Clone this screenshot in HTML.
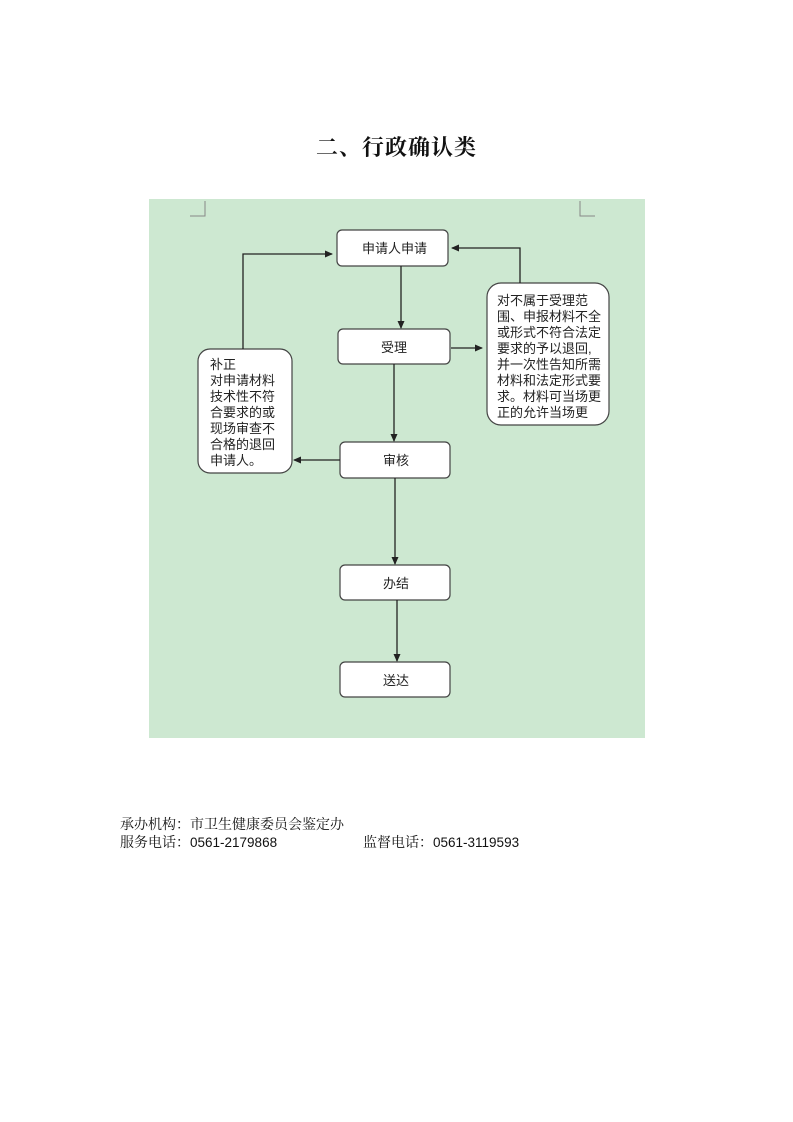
<!DOCTYPE html>
<html><head><meta charset="utf-8"><style>
body{margin:0;width:793px;height:1122px;background:#fff;position:relative;overflow:hidden}
.t{position:absolute;font-family:"Liberation Serif","Noto Serif CJK SC",serif;font-weight:bold;font-size:22px;left:0;width:793px;text-align:center;top:131px;color:#111;letter-spacing:1px}
.f{position:absolute;left:120px;font-family:"Liberation Serif","Noto Serif CJK SC",serif;font-size:14px;color:#111;line-height:17px;white-space:nowrap}
.f span{font-family:"Liberation Sans",sans-serif;font-size:13.5px}
</style></head><body>
<div class="t">二、行政确认类</div>
<svg width="793" height="1122" style="position:absolute;left:0;top:0">
<defs><marker id="a" markerWidth="8" markerHeight="8" refX="7" refY="4" orient="auto" markerUnits="userSpaceOnUse"><path d="M0,0.5 L8,4 L0,7.5z" fill="#222"/></marker></defs>
<rect x="149" y="199" width="496" height="539" fill="#cde8d1"/>
<path d="M205 201V216H190M580 201V216H595" stroke="#888" fill="none" stroke-width="1"/>
<g fill="#fff" stroke="#444" stroke-width="1.2">
<rect x="337" y="230" width="111" height="36" rx="5"/>
<rect x="338" y="329" width="112" height="35" rx="5"/>
<rect x="340" y="442" width="110" height="36" rx="5"/>
<rect x="340" y="565" width="110" height="35" rx="5"/>
<rect x="340" y="662" width="110" height="35" rx="5"/>
<rect x="198" y="349" width="94" height="124" rx="12"/>
<rect x="487" y="283" width="122" height="142" rx="14"/>
</g>
<g stroke="#222" stroke-width="1.3" fill="none" marker-end="url(#a)">
<path d="M401 266V328"/>
<path d="M394 364V441"/>
<path d="M395 478V564"/>
<path d="M397 600V661"/>
<path d="M451 348H482"/>
<path d="M520 283V248H452"/>
<path d="M243 349V254H332"/>
<path d="M340 460H294"/>
</g>
<g font-family="Liberation Sans,Noto Sans CJK SC,sans-serif" font-size="13" fill="#222">
<text x="362" y="253">申请人申请</text>
<text x="381" y="352">受理</text>
<text x="383" y="465">审核</text>
<text x="383" y="588">办结</text>
<text x="383" y="685">送达</text>
<text x="210" y="369">补正</text>
<text x="210" y="385">对申请材料</text>
<text x="210" y="401">技术性不符</text>
<text x="210" y="417">合要求的或</text>
<text x="210" y="433">现场审查不</text>
<text x="210" y="449">合格的退回</text>
<text x="210" y="465">申请人。</text>
<g><text x="497" y="305">对不属于受理范</text>
<text x="497" y="321">围、申报材料不全</text>
<text x="497" y="337">或形式不符合法定</text>
<text x="497" y="353">要求的予以退回,</text>
<text x="497" y="369">并一次性告知所需</text>
<text x="497" y="385">材料和法定形式要</text>
<text x="497" y="401">求。材料可当场更</text>
<text x="497" y="417">正的允许当场更</text></g>
</g>
</svg>
<div class="f" style="top:817px">承办机构：市卫生健康委员会鉴定办</div>
<div class="f" style="top:834px">服务电话：<span>0561-2179868</span></div>
<div class="f" style="top:834px;left:363px">监督电话：<span>0561-3119593</span></div>
</body></html>
